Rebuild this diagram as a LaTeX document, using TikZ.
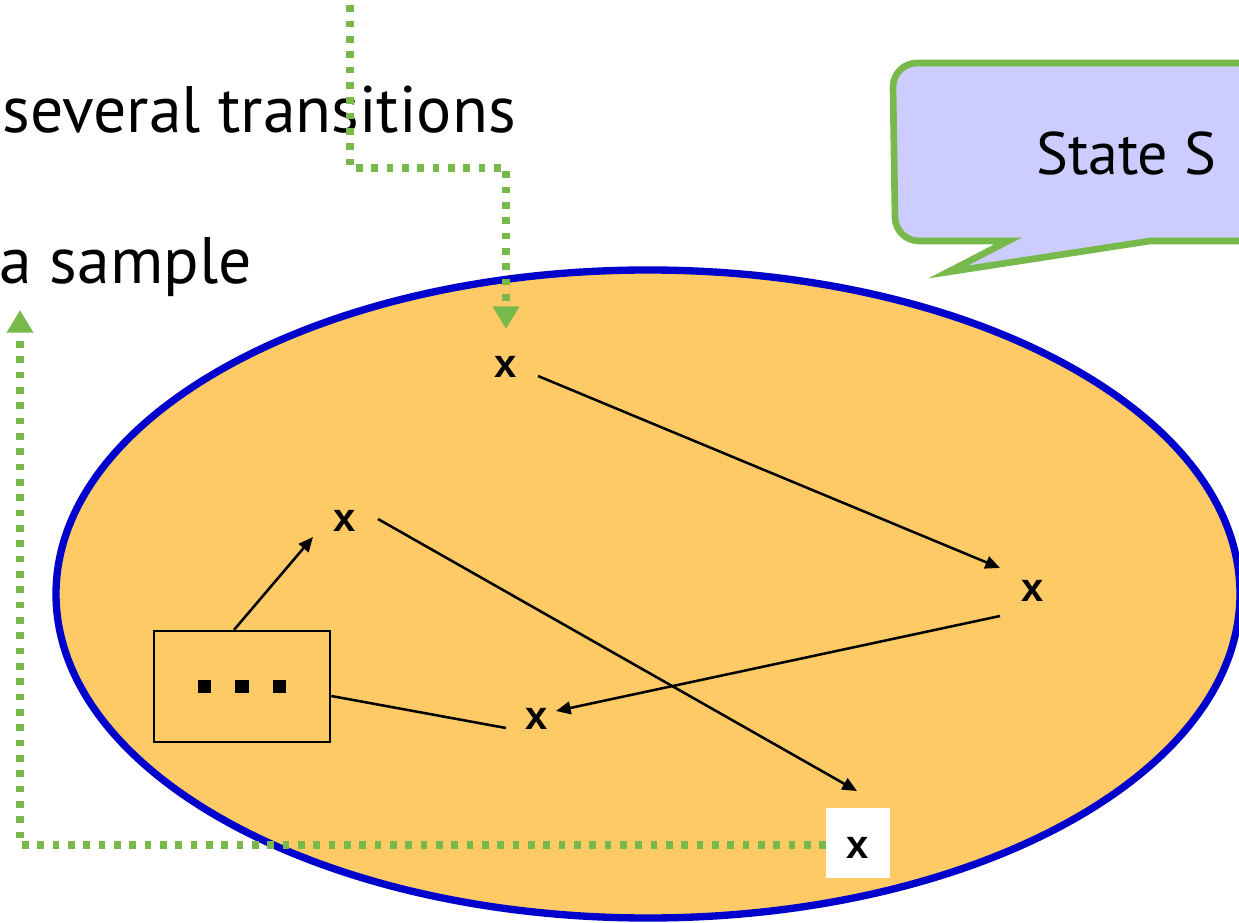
\documentclass[tikz,border=0pt]{standalone}
\usepackage{fontspec}
\setmainfont{PT Sans}
\newfontfamily\markfont{Liberation Sans}
\usetikzlibrary{arrows.meta,calc}
\definecolor{statefill}{HTML}{FDCA65}
\definecolor{stateline}{HTML}{0000CC}
\definecolor{calloutfill}{HTML}{CCCCFF}
\definecolor{guide}{HTML}{77B94B}
\begin{document}
\begin{tikzpicture}[x=0.75pt,y=-0.75pt,
  label text/.style={inner sep=0pt,font=\fontsize{49.3pt}{57pt}\selectfont},
  sample/.style={inner sep=0pt,font=\markfont\bfseries\fontsize{30pt}{34pt}\selectfont},
  trans/.style={draw=black,line width=1.9pt,-{Triangle[length=11pt,width=9.5pt]}},
  plain link/.style={draw=black,line width=1.9pt},
  guideline/.style={draw=guide,line width=5.5pt,dash pattern=on 5pt off 6.5pt,
    -{Triangle[length=17pt,width=19pt]}},
  callout/.style={draw=guide,fill=calloutfill,line width=5pt,line join=miter}]
\useasboundingbox (0,0) rectangle (1239,923);
\clip (0,0) rectangle (1239,923);

% state space
\draw[stateline,fill=statefill,line width=5.5pt] (648,594) ellipse [x radius=592,y radius=324];

% speech bubble with its tail
\draw[callout] (1008,241) -- (948,272) -- (1150,241) -- (1300,241) -- (1300,63) -- (917,63)
  arc[start angle=270,end angle=180,radius=24] -- (895,217)
  arc[start angle=180,end angle=90,radius=24] -- cycle;
\node[label text,anchor=base west,font=\fontsize{45pt}{52pt}\selectfont] (bubble) at (1036,175) {State S};

% texts
\node[label text,anchor=base east] (several) at (516,133) {several transitions};
\node[label text,anchor=base east] (asample) at (252,284) {a sample};

% samples
\node[sample] (x1) at (506,367) {x};
\node[sample] (x2) at (345,521) {x};
\node[sample] (x3) at (1033,591) {x};
\node[sample] (x4) at (537,719) {x};
\node[draw=black,line width=1.9pt,minimum width=132pt,minimum height=83pt,inner sep=0pt] (dots) at (242,686.5)
  {\rule{10pt}{10pt}\hspace{18pt}\rule{10pt}{10pt}\hspace{18pt}\rule{10pt}{10pt}};

% dotted guides
\coordinate (src) at (350,-10);
\coordinate (hop) at (506,168);
\coordinate (back) at (20,310);
\draw[guideline] (src) |- (hop) -- ($(x1)+(0,-38)$);
\draw[guideline] (826,845) -| (back);

\node[sample,fill=white,minimum width=48pt,minimum height=52.5pt] (x5box) at (858,843) {};
\node[sample] (x5) at (858,848) {x};

% transitions
\draw[trans] ($(x1)+(32,9)$) -- ($(x3)+(-33,-23)$);
\draw[trans] ($(x3)+(-33,25)$) -- ($(x4)+(19,-8)$);
\draw[trans] ($(x2)+(33,-2)$) -- ($(x5)+(-1,-57)$);
\draw[trans] ($(dots.north)+(-8,0)$) -- ($(x2)+(-32,16)$);
\draw[plain link] ($(dots.east)+(0,9.5)$) -- ($(x4)+(-31,9)$);
\end{tikzpicture}
\end{document}
